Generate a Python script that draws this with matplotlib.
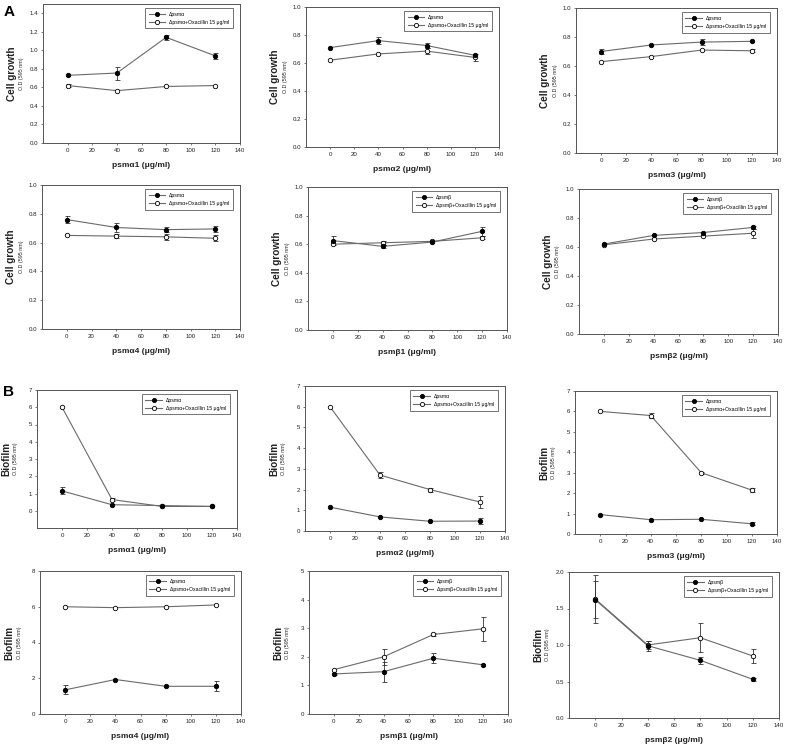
import matplotlib
matplotlib.use("Agg")
import matplotlib.pyplot as plt
from matplotlib.lines import Line2D
import numpy as np

plt.rcParams['font.family'] = ['Liberation Sans', 'DejaVu Sans']

W, H = 787, 749

conc = [0, 40, 80, 120]

# Cell growth (A)
a1_psm = [0.73, 0.755, 1.14, 0.94];   a1_psm_err = [0.0, 0.07, 0.03, 0.035]
a1_oxa = [0.62, 0.565, 0.61, 0.62];   a1_oxa_err = [0.02, 0.0, 0.0, 0.0]
a2_psm = [0.71, 0.76, 0.725, 0.655];  a2_psm_err = [0.0, 0.025, 0.015, 0.0]
a2_oxa = [0.62, 0.665, 0.685, 0.64];  a2_oxa_err = [0.0, 0.0, 0.02, 0.025]
a3_psm = [0.70, 0.745, 0.765, 0.77];  a3_psm_err = [0.02, 0.0, 0.02, 0.0]
a3_oxa = [0.63, 0.665, 0.71, 0.705];  a3_oxa_err = [0.0, 0.0, 0.0, 0.01]
a4_psm = [0.76, 0.705, 0.69, 0.695];  a4_psm_err = [0.025, 0.03, 0.015, 0.02]
a4_oxa = [0.65, 0.645, 0.64, 0.63];   a4_oxa_err = [0.0, 0.015, 0.02, 0.02]
a5_psm = [0.625, 0.585, 0.615, 0.69]; a5_psm_err = [0.03, 0.01, 0.0, 0.03]
a5_oxa = [0.60, 0.61, 0.62, 0.645];   a5_oxa_err = [0.0, 0.015, 0.0, 0.01]
a6_psm = [0.62, 0.68, 0.70, 0.735];   a6_psm_err = [0.0, 0.0, 0.0, 0.01]
a6_oxa = [0.615, 0.655, 0.675, 0.695]; a6_oxa_err = [0.0, 0.0, 0.0, 0.03]

# Biofilm (B)
b1_psm = [1.15, 0.35, 0.30, 0.25];   b1_psm_err = [0.2, 0.0, 0.0, 0.0]
b1_oxa = [6.0, 0.65, 0.25, 0.25];    b1_oxa_err = [0.0, 0.1, 0.0, 0.0]
b2_psm = [1.15, 0.68, 0.47, 0.48];   b2_psm_err = [0.0, 0.0, 0.0, 0.15]
b2_oxa = [6.0, 2.7, 2.0, 1.4];       b2_oxa_err = [0.0, 0.15, 0.1, 0.3]
b3_psm = [0.95, 0.70, 0.72, 0.50];   b3_psm_err = [0.0, 0.0, 0.0, 0.08]
b3_oxa = [6.0, 5.8, 3.0, 2.15];      b3_oxa_err = [0.0, 0.12, 0.05, 0.08]
b4_psm = [1.35, 1.93, 1.55, 1.55];   b4_psm_err = [0.25, 0.0, 0.0, 0.28]
b4_oxa = [6.0, 5.95, 6.0, 6.1];      b4_oxa_err = [0.0, 0.0, 0.0, 0.0]
b5_psm = [1.40, 1.48, 1.95, 1.72];   b5_psm_err = [0.05, 0.35, 0.18, 0.0]
b5_oxa = [1.55, 2.0, 2.78, 2.98];    b5_oxa_err = [0.0, 0.27, 0.05, 0.42]
b6_psm = [1.62, 0.99, 0.79, 0.53];   b6_psm_err = [0.25, 0.07, 0.05, 0.02]
b6_oxa = [1.63, 1.0, 1.10, 0.85];    b6_oxa_err = [0.33, 0.06, 0.2, 0.1]

xlabels = ['psmα1 (μg/ml)', 'psmα2 (μg/ml)', 'psmα3 (μg/ml)',
           'psmα4 (μg/ml)', 'psmβ1 (μg/ml)', 'psmβ2 (μg/ml)']
leg_alpha = ['Δpsmα', 'Δpsmα+Oxacillin 15 μg/ml']
leg_beta = ['Δpsmβ', 'Δpsmβ+Oxacillin 15 μg/ml']

panels = [
    ((43, 4, 240, 143), a1_psm, a1_psm_err, a1_oxa, a1_oxa_err, (0, 1.5), np.arange(0, 1.41, 0.2), '{:.1f}', 'Cell growth', leg_alpha, xlabels[0]),
    ((306, 7, 499, 147), a2_psm, a2_psm_err, a2_oxa, a2_oxa_err, (0, 1.0), np.arange(0, 1.01, 0.2), '{:.1f}', 'Cell growth', leg_alpha, xlabels[1]),
    ((576, 8, 777, 153), a3_psm, a3_psm_err, a3_oxa, a3_oxa_err, (0, 1.0), np.arange(0, 1.01, 0.2), '{:.1f}', 'Cell growth', leg_alpha, xlabels[2]),
    ((42, 185, 240, 329), a4_psm, a4_psm_err, a4_oxa, a4_oxa_err, (0, 1.0), np.arange(0, 1.01, 0.2), '{:.1f}', 'Cell growth', leg_alpha, xlabels[3]),
    ((308, 187, 507, 330), a5_psm, a5_psm_err, a5_oxa, a5_oxa_err, (0, 1.0), np.arange(0, 1.01, 0.2), '{:.1f}', 'Cell growth', leg_beta, xlabels[4]),
    ((579, 189, 778, 334), a6_psm, a6_psm_err, a6_oxa, a6_oxa_err, (0, 1.0), np.arange(0, 1.01, 0.2), '{:.1f}', 'Cell growth', leg_beta, xlabels[5]),
    ((37, 390, 237, 528), b1_psm, b1_psm_err, b1_oxa, b1_oxa_err, (-1, 7), np.arange(0, 8, 1), '{:.0f}', 'Biofilm', leg_alpha, xlabels[0]),
    ((305, 386, 505, 531), b2_psm, b2_psm_err, b2_oxa, b2_oxa_err, (0, 7), np.arange(0, 8, 1), '{:.0f}', 'Biofilm', leg_alpha, xlabels[1]),
    ((575, 391, 777, 534), b3_psm, b3_psm_err, b3_oxa, b3_oxa_err, (0, 7), np.arange(0, 8, 1), '{:.0f}', 'Biofilm', leg_alpha, xlabels[2]),
    ((40, 571, 241, 714), b4_psm, b4_psm_err, b4_oxa, b4_oxa_err, (0, 8), np.arange(0, 9, 2), '{:.0f}', 'Biofilm', leg_alpha, xlabels[3]),
    ((309, 571, 508, 714), b5_psm, b5_psm_err, b5_oxa, b5_oxa_err, (0, 5), np.arange(0, 6, 1), '{:.0f}', 'Biofilm', leg_beta, xlabels[4]),
    ((569, 572, 779, 718), b6_psm, b6_psm_err, b6_oxa, b6_oxa_err, (0, 2), np.arange(0, 2.01, 0.5), '{:.1f}', 'Biofilm', leg_beta, xlabels[5]),
]

fig = plt.figure(figsize=(W / 100, H / 100), dpi=100)
fig.patch.set_facecolor('white')

LINE = '#6a6a6a'
TXT = '#222222'


def draw_series(ax, y, err, filled):
    ax.plot(conc, y, color=LINE, lw=0.8, zorder=2)
    xe = [c for c, e in zip(conc, err) if e > 0]
    ye = [v for v, e in zip(y, err) if e > 0]
    ee = [e for e in err if e > 0]
    if xe:
        ax.errorbar(xe, ye, yerr=ee, fmt='none', ecolor='#333333',
                    elinewidth=0.6, capsize=1.8, capthick=0.6, zorder=3)
    ax.plot(conc, y, ls='none', marker='o', ms=3.2,
            mfc='black' if filled else 'white', mec='black', mew=0.6, zorder=4)


for rect, ps, pse, ox, oxe, ylim, yticks, fmt, ylab, leg, xlab in panels:
    l, t, r, b = rect
    ax = fig.add_axes([l / W, 1 - b / H, (r - l) / W, (b - t) / H])
    draw_series(ax, ox, oxe, False)
    draw_series(ax, ps, pse, True)
    ax.set_xlim(-20, 140)
    ax.set_ylim(*ylim)
    ax.set_xticks(np.arange(0, 141, 20))
    ax.set_xticklabels([str(v) for v in range(0, 141, 20)])
    ax.set_yticks(yticks)
    ax.set_yticklabels([fmt.format(v) for v in yticks])
    ax.tick_params(axis='both', labelsize=4.4, length=1.5, width=0.5,
                   pad=1.8, colors='#444444', labelcolor=TXT)
    for sp in ax.spines.values():
        sp.set_linewidth(0.7)
        sp.set_color('#555555')
    ax.set_xlabel(xlab, fontsize=6, fontweight='bold', color=TXT, labelpad=7)
    yc = 1 - (t + b) / 2 / H
    fig.text((l - 31) / W, yc, ylab, rotation=90, ha='center', va='center',
             fontsize=7.2, fontweight='bold', color=TXT)
    fig.text((l - 21) / W, yc, 'O.D (595 nm)', rotation=90, ha='center',
             va='center', fontsize=3.8, color=TXT)
    handles = [
        Line2D([], [], color=LINE, lw=0.8, marker='o', ms=3, mfc='black', mec='black', mew=0.6),
        Line2D([], [], color=LINE, lw=0.8, marker='o', ms=3, mfc='white', mec='black', mew=0.6),
    ]
    lg = ax.legend(handles, leg, loc='upper right', bbox_to_anchor=(0.965, 0.97),
                   fontsize=3.7, handlelength=3.2, handletextpad=0.8,
                   borderpad=0.7, labelspacing=0.6, frameon=True,
                   fancybox=False, borderaxespad=0)
    lg.get_frame().set_edgecolor('#333333')
    lg.get_frame().set_linewidth(0.6)

fig.text(9 / W, 1 - 12 / H, 'A', fontsize=11, fontweight='bold', ha='center', va='center')
fig.text(8 / W, 1 - 392 / H, 'B', fontsize=11, fontweight='bold', ha='center', va='center')

fig.savefig('out.png', dpi=100, facecolor='white')
